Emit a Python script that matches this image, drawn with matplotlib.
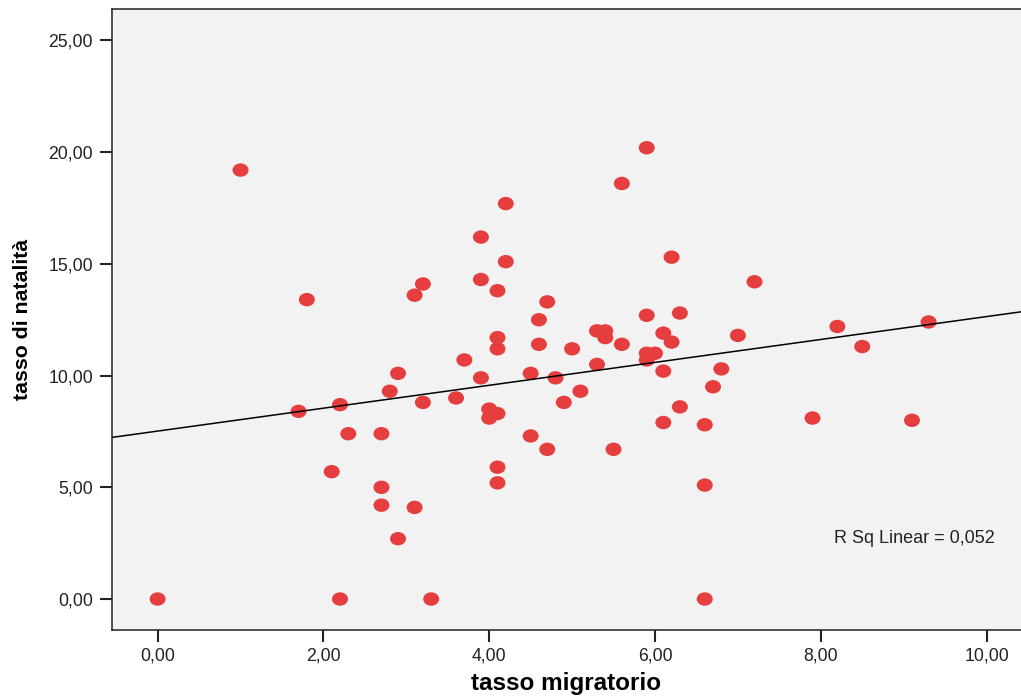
import numpy as np
import matplotlib
matplotlib.use("Agg")
import matplotlib.pyplot as plt
from matplotlib.path import Path
from matplotlib.transforms import Affine2D

# Data
tasso_migratorio = [0.0, 1.0, 1.8, 1.7, 2.2, 2.3, 2.1, 2.7, 2.7, 2.7, 2.2, 2.9, 3.1, 3.3,
                    2.8, 2.9, 3.2, 3.1, 3.2, 3.7, 3.6, 3.9, 3.9, 3.9, 4.0, 4.0, 4.1, 4.1,
                    4.1, 4.1, 4.2, 4.2, 4.1, 4.1, 4.6, 4.6, 4.7, 5.0, 5.3, 5.4, 5.4, 4.5,
                    4.8, 5.3, 5.1, 4.9, 4.5, 4.7, 5.5, 5.9, 5.6, 6.2, 7.2, 5.9, 6.3, 5.6,
                    6.1, 6.2, 5.9, 6.0, 5.9, 6.1, 7.0, 6.8, 6.7, 6.3, 6.1, 6.6, 6.6, 6.6,
                    8.2, 8.5, 9.3, 7.9, 9.1]
tasso_natalita = [0.0, 19.2, 13.4, 8.4, 8.7, 7.4, 5.7, 7.4, 5.0, 4.2, 0.0, 2.7, 4.1, 0.0,
                  9.3, 10.1, 8.8, 13.6, 14.1, 10.7, 9.0, 9.9, 16.2, 14.3, 8.5, 8.1, 8.3, 11.7,
                  11.2, 13.8, 17.7, 15.1, 5.9, 5.2, 12.5, 11.4, 13.3, 11.2, 12.0, 12.0, 11.7, 10.1,
                  9.9, 10.5, 9.3, 8.8, 7.3, 6.7, 6.7, 20.2, 18.6, 15.3, 14.2, 12.7, 12.8, 11.4,
                  11.9, 11.5, 11.0, 11.0, 10.7, 10.2, 11.8, 10.3, 9.5, 8.6, 7.9, 7.8, 5.1, 0.0,
                  12.2, 11.3, 12.4, 8.1, 8.0]
x_ticks = [0, 2, 4, 6, 8, 10]
x_ticklabels = ["0,00", "2,00", "4,00", "6,00", "8,00", "10,00"]
y_ticks = [0, 5, 10, 15, 20, 25]
y_ticklabels = ["0,00", "5,00", "10,00", "15,00", "20,00", "25,00"]
r2_label = "R Sq Linear = 0,052"

plt.rcParams['font.family'] = ['Liberation Sans', 'DejaVu Sans']

fig = plt.figure(figsize=(10.21, 6.96), dpi=100)
ax = fig.add_axes([0.1094, 0.0944, 0.8906, 0.8927])
ax.set_facecolor('#F2F2F2')

x = np.array(tasso_migratorio)
y = np.array(tasso_natalita)

ellipse = Path.unit_circle().transformed(Affine2D().scale(1.0, 0.84))
ax.scatter(x, y, marker=ellipse, s=11.5 ** 2, color='#E63E3E', edgecolors='none',
           zorder=3)

xmin, xmax = -0.554, 10.415
slope, intercept = np.polyfit(x, y, 1)
xl = np.array([xmin, xmax])
ax.plot(xl, intercept + slope * xl, color='black', lw=1.1, zorder=4)

ax.set_xlim(xmin, xmax)
ax.set_ylim(-1.40, 26.41)
ax.set_xticks(x_ticks)
ax.set_xticklabels(x_ticklabels)
ax.set_yticks(y_ticks)
ax.set_yticklabels(y_ticklabels)
ax.tick_params(axis='both', direction='out', length=8.5, width=1.5, labelsize=12.7,
               color='#222222', labelcolor='#222222')
ax.tick_params(axis='x', pad=4)
ax.tick_params(axis='y', pad=5)

for s in ['left', 'bottom', 'top']:
    ax.spines[s].set_linewidth(1.1)
    ax.spines[s].set_color('#222222')
ax.spines['right'].set_visible(False)

ax.text(8.16, 2.73, r2_label, fontsize=13, va='center', ha='left', color='#222222')

ax.set_xlabel('tasso migratorio', fontsize=17.5, fontweight='bold', labelpad=5)
ax.set_ylabel('tasso di natalità', fontsize=15.3, fontweight='bold', labelpad=12)

fig.savefig('out.png', dpi=100)
